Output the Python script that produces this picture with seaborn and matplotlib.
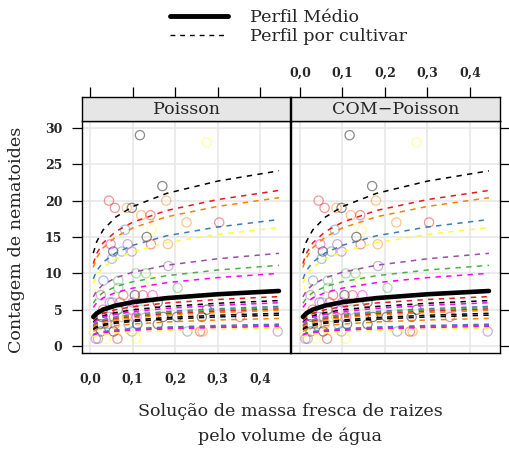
import matplotlib
matplotlib.use("Agg")
import matplotlib.pyplot as plt
from matplotlib.lines import Line2D
import matplotlib.colors as mcolors
import pandas as pd
import seaborn as sns

sns.set_theme(style="white")
plt.rcParams['font.family'] = ['DejaVu Serif']

# ---------------- data ----------------
panels = ["Poisson", "COM\u2212Poisson"]
x_ticks = [0.0, 0.1, 0.2, 0.3, 0.4]
x_tick_labels = ["0,0", "0,1", "0,2", "0,3", "0,4"]
y_ticks = [0, 5, 10, 15, 20, 25, 30]

palette = {
    "k": "#000000", "red": "#E41A1C", "orange": "#FF7F00", "blue": "#377EB8",
    "yellow": "#FFFF33", "purple": "#984EA3", "green": "#4DAF4A", "magenta": "#FF00FF",
}

obs_x = [0.117, 0.275, 0.17, 0.044, 0.179,
         0.058, 0.086, 0.098,
         0.12, 0.142,
         0.227, 0.304,
         0.082, 0.145,
         0.133,
         0.048, 0.088, 0.143, 0.183,
         0.054, 0.074, 0.098,
         0.051,
         0.184,
         0.108, 0.131,
         0.031, 0.066, 0.142,
         0.021, 0.066, 0.206,
         0.025, 0.078, 0.105, 0.124, 0.147,
         0.046, 0.052, 0.07, 0.1, 0.159,
         0.03, 0.065, 0.096, 0.12, 0.275,
         0.027, 0.045, 0.056, 0.075, 0.086, 0.109, 0.172, 0.204, 0.263, 0.353,
         0.023, 0.04, 0.058, 0.09, 0.111, 0.159,
         0.011, 0.025, 0.055, 0.098, 0.229, 0.259, 0.265, 0.442,
         0.013, 0.018, 0.037, 0.064, 0.108]
obs_y = [29, 28, 22, 20, 20,
         19, 19, 19,
         18, 18,
         17, 17,
         16, 16,
         15,
         14, 14, 14, 14,
         13, 13, 13,
         12,
         11,
         10, 10,
         9, 9, 9,
         8, 8, 8,
         7, 7, 7, 7, 7,
         6, 6, 6, 6, 6,
         5, 5, 5, 5, 5,
         4, 4, 4, 4, 4, 4, 4, 4, 4, 4,
         3, 3, 3, 3, 3, 3,
         2, 2, 2, 2, 2, 2, 2, 2,
         1, 1, 1, 1, 1]
obs_cor = ["k", "yellow", "k", "red", "orange",
           "red", "orange", "k",
           "orange", "red",
           "orange", "red",
           "blue", "yellow",
           "k",
           "magenta", "purple", "red", "orange",
           "k", "blue", "purple",
           "blue",
           "purple",
           "green", "green",
           "blue", "green", "yellow",
           "yellow", "green", "green",
           "purple", "red", "k", "red", "magenta",
           "magenta", "blue", "red", "magenta", "k",
           "red", "k", "magenta", "green", "k",
           "k", "blue", "red", "green", "orange", "magenta", "k", "k", "k", "red",
           "k", "blue", "orange", "blue", "k", "k",
           "yellow", "k", "k", "blue", "blue", "red", "orange", "purple",
           "purple", "purple", "yellow", "red", "yellow"]

curve_x = [0.007, 0.015, 0.03, 0.06, 0.1, 0.18, 0.3, 0.445]
curve_cor = ["k", "red", "orange", "blue", "yellow", "purple", "green", "magenta",
             "red", "k", "magenta", "blue", "green", "red", "orange", "k", "k",
             "orange", "blue", "purple", "magenta", "yellow"]
curve_vals = [
    [12.77, 14.34, 15.95, 17.74, 19.18, 20.99, 22.68, 24.10],
    [11.34, 12.73, 14.17, 15.75, 17.03, 18.64, 20.14, 21.40],
    [10.81, 12.14, 13.50, 15.01, 16.24, 17.77, 19.20, 20.40],
    [9.22, 10.35, 11.52, 12.81, 13.85, 15.16, 16.37, 17.40],
    [8.64, 9.70, 10.79, 12.00, 12.97, 14.20, 15.34, 16.30],
    [6.76, 7.59, 8.44, 9.38, 10.15, 11.11, 12.00, 12.75],
    [5.88, 6.60, 7.35, 8.17, 8.84, 9.67, 10.45, 11.10],
    [5.30, 5.95, 6.62, 7.36, 7.96, 8.71, 9.41, 10.00],
    [3.60, 4.05, 4.50, 5.00, 5.41, 5.92, 6.40, 6.80],
    [3.31, 3.72, 4.14, 4.60, 4.98, 5.44, 5.88, 6.25],
    [3.15, 3.54, 3.94, 4.38, 4.74, 5.18, 5.60, 5.95],
    [2.89, 3.24, 3.61, 4.01, 4.34, 4.75, 5.13, 5.45],
    [2.81, 3.15, 3.51, 3.90, 4.22, 4.62, 4.99, 5.30],
    [2.70, 3.03, 3.38, 3.75, 4.06, 4.44, 4.80, 5.10],
    [2.60, 2.92, 3.24, 3.61, 3.90, 4.27, 4.61, 4.90],
    [2.39, 2.68, 2.98, 3.31, 3.58, 3.92, 4.23, 4.50],
    [2.25, 2.53, 2.81, 3.13, 3.38, 3.70, 4.00, 4.25],
    [2.01, 2.26, 2.52, 2.80, 3.02, 3.31, 3.58, 3.80],
    [1.59, 1.79, 1.99, 2.21, 2.39, 2.61, 2.82, 3.00],
    [1.51, 1.70, 1.89, 2.10, 2.27, 2.48, 2.68, 2.85],
    [1.43, 1.61, 1.79, 1.99, 2.15, 2.35, 2.54, 2.70],
    [1.30, 1.46, 1.62, 1.80, 1.95, 2.13, 2.31, 2.45],
]
mean_vals = [4.01, 4.50, 5.01, 5.57, 6.03, 6.59, 7.12, 7.57]

# ---------------- layout ----------------
W, H = 509, 449
fig = plt.figure(figsize=(W / 100, H / 100), dpi=100)
fig.patch.set_facecolor("white")

xlim = (-0.0203, 0.4717)
ylim = (-0.96, 30.95)

def fx(px):
    return px / W

def fy(py):
    return 1 - py / H

panel_boxes = [(81.7, 290.3), (291.3, 500.3)]
top, bottom, strip_top = 121, 353, 97

df_pts = pd.DataFrame({"x": obs_x, "y": obs_y, "cor": obs_cor})

tick_font = dict(family="DejaVu Serif", weight="bold", size=9)

for i, (l, r) in enumerate(panel_boxes):
    ax = fig.add_axes([fx(l), fy(bottom), fx(r - l), (bottom - top) / H])
    sax = fig.add_axes([fx(l), fy(top), fx(r - l), (top - strip_top) / H])

    ax.set_xlim(*xlim)
    ax.set_ylim(*ylim)
    ax.set_facecolor("white")
    for xt in x_ticks:
        ax.axvline(xt, color="#E6E6E6", lw=1.1, zorder=0)
    for yt in y_ticks:
        ax.axhline(yt, color="#E6E6E6", lw=1.1, zorder=0)

    sns.scatterplot(data=df_pts, x="x", y="y", hue="cor", palette=palette,
                    s=44, linewidth=0, legend=False, ax=ax, zorder=2)
    coll = ax.collections[-1]
    fc = coll.get_facecolors().copy()
    fc[:, 3] = 0.45
    coll.set_facecolor("none")
    coll.set_edgecolors(fc)
    coll.set_linewidth(0.9)

    for cor, vals in zip(curve_cor, curve_vals):
        sns.lineplot(x=curve_x, y=vals, ax=ax, color=palette[cor], lw=1.1,
                     linestyle=(0, (3.5, 3.5)), zorder=3)
    sns.lineplot(x=curve_x, y=mean_vals, ax=ax, color="black", lw=3.3,
                 zorder=4)

    ax.set_xlabel("")
    ax.set_ylabel("")
    for sp in ax.spines.values():
        sp.set_visible(True)
        sp.set_color("black")
        sp.set_linewidth(1.0)

    ax.set_xticks(x_ticks)
    ax.set_yticks(y_ticks)
    ax.tick_params(axis="both", direction="out", length=7.5, width=0.9,
                   color="black", pad=6.5)
    if i == 0:
        ax.set_xticklabels(x_tick_labels, fontdict=tick_font)
        ax.set_yticklabels([str(v) for v in y_ticks], fontdict=tick_font)
        ax.tick_params(axis="y", left=True, right=False, labelleft=True)
    else:
        ax.tick_params(axis="x", labelbottom=False)
        ax.tick_params(axis="y", left=False, right=True, labelleft=False,
                       labelright=False)

    # strip
    sax.set_xlim(*xlim)
    sax.set_ylim(0, 1)
    sax.set_facecolor("#E6E6E6")
    for sp in sax.spines.values():
        sp.set_visible(True)
        sp.set_color("black")
        sp.set_linewidth(1.0)
    sax.set_yticks([])
    sax.set_xticks(x_ticks)
    sax.tick_params(axis="x", direction="out", length=7.5, width=0.9,
                    color="black", top=True, bottom=False, labelbottom=False,
                    labeltop=(i == 1), pad=5)
    if i == 1:
        sax.set_xticklabels(x_tick_labels, fontdict=tick_font)
    sax.text(0.5, 0.48, panels[i], transform=sax.transAxes, ha="center",
             va="center", fontsize=12.6)

# axis labels
fig.text(fx(17), fy(240), "Contagem de nematoides", rotation=90,
         ha="center", va="center", fontsize=12.6)
fig.text(fx(290.5), fy(411), "Solução de massa fresca de raizes",
         ha="center", va="center", fontsize=12.6)
fig.text(fx(290.5), fy(436), "pelo volume de água",
         ha="center", va="center", fontsize=12.6)

# legend
fig.add_artist(Line2D([fx(170), fx(228)], [fy(15.7), fy(15.7)],
                      transform=fig.transFigure, color="black", lw=3.5))
fig.add_artist(Line2D([fx(170), fx(228)], [fy(35), fy(35)],
                      transform=fig.transFigure, color="black", lw=1.0,
                      linestyle=(0, (3.5, 3.5))))
fig.text(fx(250), fy(22), "Perfil Médio", ha="left", va="baseline",
         fontsize=12.6)
fig.text(fx(250), fy(41), "Perfil por cultivar", ha="left", va="baseline",
         fontsize=12.6)

fig.savefig("out.png", dpi=100, facecolor="white")
